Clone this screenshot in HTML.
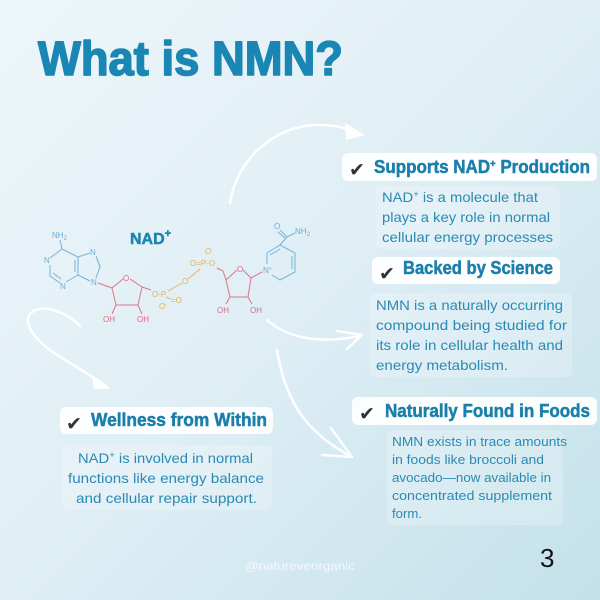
<!DOCTYPE html>
<html><head><meta charset="utf-8"><style>
html,body{margin:0;padding:0;width:600px;height:600px;overflow:hidden}
svg{display:block}
.h{font-family:"Liberation Sans",sans-serif;font-weight:bold;fill:#1b7fab;stroke:#1b7fab;stroke-width:0.5}
.b{font-family:"Liberation Sans",sans-serif;fill:#2a8ab4}
.ck{font-family:"DejaVu Sans",sans-serif;font-weight:bold;fill:#333}
.mb{font-family:"Liberation Sans",sans-serif;font-size:8px;fill:#6eaed0}
.mr{font-family:"Liberation Sans",sans-serif;font-size:8px;fill:#e06a7e}
.mo{font-family:"Liberation Sans",sans-serif;font-size:8px;fill:#e6ad55}
</style></head><body>
<svg width="600" height="600" viewBox="0 0 600 600" xmlns="http://www.w3.org/2000/svg">
<defs>
<linearGradient id="bg" x1="0" y1="0" x2="1" y2="1">
<stop offset="0" stop-color="#edf6fa"/>
<stop offset="0.5" stop-color="#dfeef5"/>
<stop offset="1" stop-color="#c3e1ea"/>
</linearGradient>
</defs>
<rect width="600" height="600" fill="url(#bg)"/>

<!-- Title -->
<text x="38" y="75" font-family="Liberation Sans, sans-serif" font-weight="bold" font-size="48" textLength="305" lengthAdjust="spacingAndGlyphs" fill="#1a86b3" stroke="#1a86b3" stroke-width="1.6" stroke-linejoin="round">What is NMN?</text>

<!-- Arrows -->
<g fill="none" stroke="#ffffff" stroke-width="2.5" stroke-linecap="round" stroke-linejoin="round" opacity="0.95">
  <path d="M230,203 C236,160 275,124 320,125 C335,125 348,128 358,133"/>
  <path d="M80,326 C62,308 38,304 30,314 C22,326 40,345 62,358 C78,368 92,376 106,386"/>
  <path d="M267,320 C285,336 315,345 360,336"/>
  <path d="M337,331 L362,335 L347,349"/>
  <path d="M277,350 C285,400 305,432 352,457"/>
  <path d="M331,428 L352,457 L322,455"/>
</g>
<polygon points="345,123 365,135 346,140" fill="#ffffff"/>
<polygon points="92,375 111,389 94,389" fill="#ffffff"/>

<!-- Molecule: adenine (blue) -->
<g fill="none" stroke="#78b3d3" stroke-width="1">
  <line x1="60" y1="240" x2="62" y2="249"/>
  <polyline points="62,249 78,257 78,275 66,282"/>
  <polyline points="60,283 50,276 50,265"/>
  <line x1="50" y1="258" x2="62" y2="249"/>
  <line x1="75" y1="260" x2="75" y2="272"/>
  <line x1="53" y1="273" x2="61" y2="279"/>
  <polyline points="78,257 90,253"/>
  <polyline points="96,256 100,267 96,278"/>
  <line x1="97" y1="259" x2="100" y2="266"/>
  <line x1="78" y1="275" x2="90" y2="281"/>
</g>
<text class="mb" x="52" y="238">NH<tspan font-size="6" dy="2">2</tspan></text>
<text class="mb" x="44" y="263">N</text>
<text class="mb" x="60" y="289">N</text>
<text class="mb" x="90" y="255">N</text>
<text class="mb" x="91" y="285">N</text>

<!-- Ribose 1 (red) -->
<g fill="none" stroke="#e07387" stroke-width="1">
  <line x1="98" y1="283" x2="112" y2="288"/>
  <polyline points="123,279 112,288 116,305 138,305 142,287 130,279"/>
  <line x1="116" y1="305" x2="112" y2="314"/>
  <line x1="138" y1="305" x2="142" y2="314"/>
  <line x1="142" y1="287" x2="151" y2="290"/>
</g>
<text class="mr" x="123" y="281">O</text>
<text class="mr" x="103" y="322">OH</text>
<text class="mr" x="137" y="322">OH</text>

<!-- Phosphates (orange) -->
<g fill="none" stroke="#e8b25e" stroke-width="1">
  <line x1="168" y1="291" x2="182" y2="283"/>
  <line x1="188" y1="279" x2="200" y2="269"/>
  <line x1="166" y1="297" x2="171" y2="299"/>
</g>
<text class="mo" x="152" y="297">O-P</text>
<text class="mo" x="171" y="303">=O</text>
<text class="mo" x="159" y="309">O<tspan font-size="5" dy="-3">-</tspan></text>
<text class="mo" x="182" y="284">O</text>
<text class="mo" x="205" y="254">O<tspan font-size="5" dy="-3">-</tspan></text>
<text class="mo" x="190" y="266">O=P-O</text>

<!-- Ribose 2 (red) -->
<g fill="none" stroke="#e07387" stroke-width="1">
  <line x1="217" y1="268" x2="223" y2="271"/>
  <line x1="223" y1="271" x2="226" y2="280"/>
  <polyline points="237,270 226,280 230,297 248,297 251,278 243,270"/>
  <line x1="230" y1="297" x2="226" y2="304"/>
  <line x1="248" y1="297" x2="252" y2="304"/>
  <line x1="251" y1="278" x2="262" y2="272"/>
</g>
<text class="mr" x="237" y="272">O</text>
<text class="mr" x="217" y="313">OH</text>
<text class="mr" x="250" y="313">OH</text>

<!-- Pyridinium (blue) -->
<g fill="none" stroke="#78b3d3" stroke-width="1">
  <polyline points="267,264 267,253 280,245 295,253 295,272 280,280 272,275"/>
  <line x1="270" y1="255" x2="280" y2="249"/>
  <line x1="292" y1="256" x2="292" y2="269"/>
  <line x1="280" y1="245" x2="287" y2="237"/>
  <line x1="287" y1="237" x2="280" y2="230"/>
  <line x1="285" y1="238" x2="278" y2="232"/>
  <line x1="287" y1="237" x2="295" y2="233"/>
</g>
<text class="mb" x="263" y="273">N<tspan font-size="5" dy="-3">+</tspan></text>
<text class="mb" x="274" y="229">O</text>
<text class="mb" x="295" y="234">NH<tspan font-size="6" dy="2">2</tspan></text>

<!-- NAD+ label -->
<text x="130" y="244" class="h" font-size="16" style="fill:#1a86b3;stroke:#1a86b3">NAD<tspan font-size="11" dy="-7">+</tspan></text>

<!-- Heading boxes -->
<g fill="#ffffff" opacity="0.93">
  <rect x="342" y="153" width="255" height="28" rx="6"/>
  <rect x="372" y="257" width="188" height="27" rx="6"/>
  <rect x="352" y="397" width="245" height="28" rx="6"/>
  <rect x="60" y="407" width="213" height="27" rx="6"/>
</g>
<!-- Body panels -->
<g fill="#ffffff" opacity="0.22">
  <rect x="376" y="186" width="184" height="63" rx="6"/>
  <rect x="370" y="293" width="202" height="84" rx="6"/>
  <rect x="387" y="430" width="176" height="95" rx="6"/>
  <rect x="62" y="445" width="210" height="65" rx="6"/>
</g>

<!-- Checks -->
<text class="ck" x="349" y="176" font-size="19">✔</text>
<text class="ck" x="379" y="280" font-size="19">✔</text>
<text class="ck" x="359" y="420" font-size="19">✔</text>
<text class="ck" x="66" y="430" font-size="19">✔</text>

<!-- Headings -->
<text class="h" x="374" y="173" font-size="18" textLength="216" lengthAdjust="spacingAndGlyphs">Supports NAD<tspan font-size="10" dy="-6">+</tspan><tspan dy="6"> Production</tspan></text>
<text class="h" x="403" y="274" font-size="18" textLength="150" lengthAdjust="spacingAndGlyphs">Backed by Science</text>
<text class="h" x="385" y="417" font-size="18" textLength="205" lengthAdjust="spacingAndGlyphs">Naturally Found in Foods</text>
<text class="h" x="91" y="426" font-size="18" textLength="176" lengthAdjust="spacingAndGlyphs">Wellness from Within</text>

<!-- Body texts -->
<g class="b" font-size="14">
  <text class="b" x="382" y="202" textLength="156" lengthAdjust="spacingAndGlyphs">NAD<tspan font-size="9" dy="-5">+</tspan><tspan dy="5"> is a molecule that</tspan></text>
  <text class="b" x="382" y="222" textLength="168" lengthAdjust="spacingAndGlyphs">plays a key role in normal</text>
  <text class="b" x="382" y="242" textLength="171" lengthAdjust="spacingAndGlyphs">cellular energy processes</text>

  <text class="b" x="376" y="310" textLength="187" lengthAdjust="spacingAndGlyphs">NMN is a naturally occurring</text>
  <text class="b" x="376" y="330" textLength="191" lengthAdjust="spacingAndGlyphs">compound being studied for</text>
  <text class="b" x="376" y="350" textLength="187" lengthAdjust="spacingAndGlyphs">its role in cellular health and</text>
  <text class="b" x="376" y="370" textLength="132" lengthAdjust="spacingAndGlyphs">energy metabolism.</text>

  <text class="b" x="78" y="463" textLength="175" lengthAdjust="spacingAndGlyphs">NAD<tspan font-size="9" dy="-5">+</tspan><tspan dy="5"> is involved in normal</tspan></text>
  <text class="b" x="68" y="483" textLength="196" lengthAdjust="spacingAndGlyphs">functions like energy balance</text>
  <text class="b" x="76" y="503" textLength="181" lengthAdjust="spacingAndGlyphs">and cellular repair support.</text>
</g>
<g class="b" font-size="13">
  <text class="b" x="392" y="446" textLength="175" lengthAdjust="spacingAndGlyphs">NMN exists in trace amounts</text>
  <text class="b" x="392" y="464" textLength="152" lengthAdjust="spacingAndGlyphs">in foods like broccoli and</text>
  <text class="b" x="392" y="482" textLength="159" lengthAdjust="spacingAndGlyphs">avocado—now available in</text>
  <text class="b" x="392" y="500" textLength="160" lengthAdjust="spacingAndGlyphs">concentrated supplement</text>
  <text class="b" x="392" y="518" textLength="30" lengthAdjust="spacingAndGlyphs">form.</text>
</g>

<!-- Footer -->
<text x="245" y="570" font-family="Liberation Sans, sans-serif" font-size="12" fill="#ffffff" opacity="0.75" textLength="110" lengthAdjust="spacingAndGlyphs">@natureveorganic</text>
<text x="540" y="567" font-family="Liberation Sans, sans-serif" font-size="26" fill="#111111">3</text>
</svg>
</body></html>
